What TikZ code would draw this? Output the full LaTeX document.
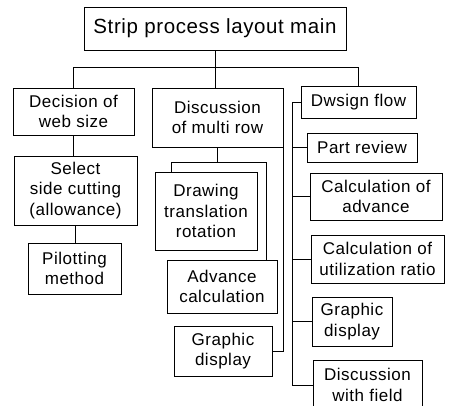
\documentclass[tikz,border=0pt]{standalone}
\usepackage{fontspec}
\setmainfont[LetterSpace=3]{Liberation Sans}
\usetikzlibrary{calc}
\begin{document}
\begin{tikzpicture}[x=1pt,y=-1pt,
  box/.style={draw, line width=0.8pt, rectangle, inner sep=0pt, align=center,
    font=\fontsize{17}{20.5}\selectfont},
  conn/.style={line width=0.8pt}]
\clip (0,0) rectangle (452,405);
\fill[white] (0,0) rectangle (452,405);
% nodes
\node[box, minimum width=262pt, minimum height=43pt, font=\fontsize{20.5}{24}\selectfont] (main) at (215,28.5) {Strip process layout main};
\node[box, minimum width=121pt, minimum height=47pt] (web) at (73.5,111.5) {Decision of\\web size};
\node[box, minimum width=123pt, minimum height=69pt] (select) at (75.5,190.5) {Select\\side cutting\\(allowance)};
\node[box, minimum width=93pt, minimum height=51pt] (pilot) at (74.5,268.5) {Pilotting\\method};
\node[box, minimum width=131pt, minimum height=59pt] (multi) at (217.5,117.5) {Discussion\\of multi row};
\node[box, minimum width=102pt, minimum height=78pt] (drawing) at (206,211) {Drawing\\translation\\rotation};
\node[box, minimum width=110pt, minimum height=53pt] (advance) at (222,286.5) {Advance\\calculation};
\node[box, minimum width=98pt, minimum height=50pt] (gdispA) at (223,351) {Graphic\\display};
\node[box, minimum width=115pt, minimum height=32pt] (dwsign) at (358.5,102) {Dwsign flow};
\node[box, minimum width=110pt, minimum height=29pt] (part) at (362,147.5) {Part review};
\node[box, minimum width=132pt, minimum height=47pt] (calcadv) at (376,196.5) {Calculation of\\advance};
\node[box, minimum width=133pt, minimum height=48pt] (util) at (377.5,259) {Calculation of\\utilization ratio};
\node[box, minimum width=80pt, minimum height=49pt] (gdispB) at (352,321.5) {Graphic\\display};
\node[box, minimum width=109pt, minimum height=50pt, text depth=0pt] (field) at (367.5,385) {Discussion\\with field};
% connectors: top level
\draw[conn] (main.south) -- ++(0,17) coordinate (bus);
\draw[conn] (web.north) |- (bus) -| (dwsign.north);
\draw[conn] (bus) -- (bus |- multi.north);
% left column
\draw[conn] (web.south) -- (web.south |- select.north);
\draw[conn] (select.south) -- (select.south |- pilot.north);
% middle column
\draw[conn] (multi.south) -- ++(0,15) coordinate (mj);
\draw[conn] ([xshift=17pt]drawing.north west) |- (mj) -| ([xshift=-11pt]advance.north east);
\draw[conn] (gdispA.east) -| (multi.south east);
% right column
\draw[conn] (dwsign.west) -- ++(-8,0) coordinate (rt) |- (field.west);
\foreach \n in {part,calcadv,util,gdispB}
  \draw[conn] (\n.west) -- (rt |- \n.west);
\end{tikzpicture}
\end{document}
